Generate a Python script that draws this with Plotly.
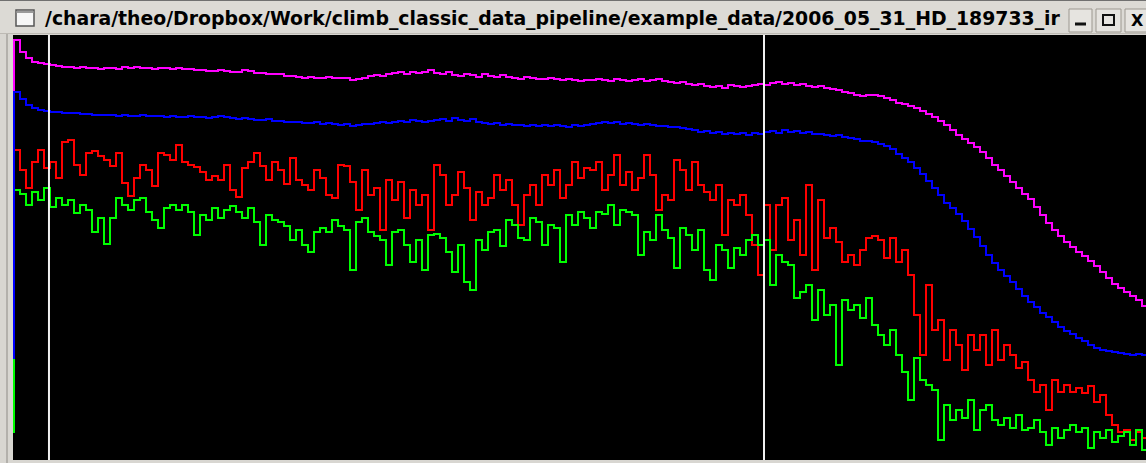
import numpy as np
import plotly.graph_objects as go

# Histogram-style power spectra (arbitrary units), one value per frequency bin.
# The first value of each series is the low "DC" bin.
magenta = [200,
    420, 408, 402, 398, 397, 396, 395, 394, 393, 393,
    392, 393, 392, 392, 391, 392, 392, 391, 393, 392,
    393, 392, 392, 391, 392, 392, 391, 392, 391, 391,
    390, 390, 389, 389, 390, 389, 388, 388, 390, 389,
    387, 387, 386, 386, 386, 384, 384, 383,
    382, 383, 382, 382, 383, 382, 382, 382, 380, 381,
    382, 384, 385, 384, 386, 387, 388, 386, 388, 387,
    388, 390, 387, 386, 388, 385, 384, 386, 385, 383,
    386, 384, 383, 385, 383, 382, 381, 383, 382, 381,
    381, 382, 381, 380, 381, 380, 379, 380,
    380, 381, 380, 379, 381, 380, 379, 380, 381, 379,
    380, 381, 379, 378, 377, 378, 376, 375, 376, 374,
    373, 374, 372, 375, 374, 373, 374, 375, 376, 375,
    377, 378, 376, 377, 375, 376, 374, 373, 374, 372,
    371, 370, 368, 367, 365, 364,
    365, 365, 364, 362, 360, 357, 356, 354, 352, 349,
    346, 343, 339, 335, 330, 325, 321, 317, 313, 308,
    302, 295, 290, 284, 278, 272, 266, 261, 253, 245,
    237, 230, 224, 218, 213, 208, 204, 199, 194, 188,
    182, 176, 172, 168, 164, 160, 154]

blue = [102,
    368, 361, 355, 352, 350, 349, 348, 348, 347, 347,
    347, 346, 346, 345, 345, 345, 345, 344, 345, 344,
    344, 345, 344, 344, 344, 343, 344, 343, 343, 344,
    343, 343, 342, 343, 344, 343, 342, 341, 342, 341,
    340, 340, 341, 339, 339, 338, 338, 338,
    337, 337, 338, 336, 337, 336, 335, 336, 334, 335,
    336, 336, 337, 338, 337, 338, 339, 338, 340, 339,
    338, 339, 340, 341, 339, 342, 340, 339, 341, 338,
    337, 336, 337, 335, 336, 335, 335, 334, 335, 334,
    335, 334, 335, 334, 333, 335, 334, 335,
    336, 337, 338, 337, 338, 336, 337, 336, 335, 336,
    335, 334, 334, 333, 333, 332, 331, 330, 328, 329,
    327, 328, 326, 327, 326, 327, 325, 327, 326, 328,
    329, 327, 330, 328, 329, 327, 328, 326, 326, 325,
    324, 325, 323, 322, 321, 319,
    319, 318, 316, 314, 311, 306, 302, 298, 292, 286,
    279, 272, 265, 257, 252, 246, 239, 231, 223, 214,
    205, 197, 190, 184, 178, 171, 164, 158, 153, 147,
    143, 138, 133, 129, 126, 122, 119, 115, 112, 110,
    109, 108, 107, 106, 105, 106, 105]

red = [150,
    310, 290, 272, 298, 310, 292, 298, 282, 318, 320,
    295, 285, 307, 309, 304, 300, 294, 307, 277, 264,
    282, 295, 290, 274, 307, 305, 300, 315, 298, 295,
    293, 288, 280, 284, 280, 295, 270, 263, 292, 298,
    307, 294, 280, 298, 290, 276, 302, 280,
    275, 270, 290, 282, 265, 262, 295, 294, 278, 250,
    290, 265, 272, 230, 280, 260, 278, 242, 270, 255,
    265, 230, 295, 285, 255, 265, 288, 272, 240, 268,
    255, 262, 285, 270, 280, 255, 235, 265, 275, 255,
    285, 275, 290, 262, 275, 298, 282, 292,
    290, 298, 270, 285, 305, 275, 288, 270, 282, 305,
    285, 250, 265, 260, 300, 290, 270, 298, 275, 268,
    260, 275, 225, 260, 255, 265, 245, 215, 185, 255,
    210, 255, 262, 220, 240, 205, 275, 190, 260, 222,
    232, 218, 198, 205, 195, 210,
    222, 224, 220, 202, 222, 198, 210, 185, 145, 105,
    175, 130, 140, 100, 130, 115, 90, 125, 110, 125,
    95, 130, 100, 115, 105, 92, 98, 80, 68, 75,
    50, 80, 68, 75, 68, 72, 67, 74, 58, 65,
    45, 35, 28, 30, 20, 28, 22]

green = [28,
    270, 266, 255, 268, 260, 272, 253, 262, 255, 260,
    247, 255, 250, 228, 242, 216, 242, 262, 255, 250,
    260, 262, 248, 240, 232, 252, 255, 250, 255, 248,
    225, 245, 240, 252, 242, 250, 254, 248, 242, 252,
    238, 215, 245, 240, 238, 234, 220, 230,
    215, 208, 228, 232, 228, 240, 234, 230, 190, 238,
    242, 228, 224, 220, 195, 228, 230, 215, 198, 220,
    190, 225, 226, 222, 208, 188, 215, 178, 170, 220,
    210, 228, 230, 214, 240, 235, 222, 220, 242, 238,
    215, 235, 232, 198, 245, 235, 248, 242,
    232, 248, 246, 255, 235, 250, 248, 245, 205, 228,
    220, 245, 230, 222, 192, 232, 225, 210, 230, 190,
    180, 215, 210, 192, 212, 205, 220, 225, 215, 220,
    175, 205, 198, 195, 162, 168, 175, 140, 170, 145,
    155, 95, 160, 150, 155, 142,
    162, 135, 125, 115, 130, 105, 88, 60, 102, 80,
    75, 70, 20, 55, 40, 50, 42, 60, 30, 50,
    55, 40, 35, 42, 32, 45, 30, 32, 40, 28,
    15, 32, 22, 30, 35, 28, 32, 12, 28, 22,
    30, 18, 24, 28, 15, 30, 10]

# Bin positions of the two vertical marker lines
markers = [6.83, 126.0]

title_text = "/chara/theo/Dropbox/Work/climb_classic_data_pipeline/example_data/2006_05_31_HD_189733_ir"

# ---------------------------------------------------------------- layout
W, H = 1146, 463
ML, MR, MT, MB = 13, 0, 35, 3
PW, PH = W - ML - MR, H - MT - MB


def px(p):
    return (p - ML) / PW


def py(q):
    return (H - MB - q) / PH


def step(vals):
    v = np.asarray(vals, dtype=float)
    x = np.arange(len(v) + 1)
    y = np.append(v, v[-1])
    return x, y


fig = go.Figure()
for vals, col in [(magenta, "#ff00ff"), (red, "#ff0000"),
                  (green, "#00ff00"), (blue, "#0000ff")]:
    x, y = step(vals)
    fig.add_trace(go.Scatter(x=x, y=y, mode="lines",
                             line=dict(color=col, width=2, shape="hv"),
                             hoverinfo="skip", showlegend=False))

shapes = []
# title bar
shapes.append(dict(type="rect", xref="paper", yref="paper",
                   x0=px(0), x1=px(W), y0=py(34), y1=py(0),
                   fillcolor="#dcdad5", line=dict(width=0), layer="below"))
shapes.append(dict(type="line", xref="paper", yref="paper",
                   x0=px(0), x1=px(W), y0=py(0.5), y1=py(0.5),
                   line=dict(color="#707070", width=1)))
shapes.append(dict(type="line", xref="paper", yref="paper",
                   x0=px(0), x1=px(W), y0=py(33.5), y1=py(33.5),
                   line=dict(color="#bdbab4", width=1)))
# left frame line
shapes.append(dict(type="line", xref="paper", yref="paper",
                   x0=px(7), x1=px(7), y0=py(34), y1=py(H),
                   line=dict(color="#8e8b86", width=1)))
# window icon
shapes.append(dict(type="rect", xref="paper", yref="paper",
                   x0=px(16), x1=px(34), y0=py(26), y1=py(10),
                   fillcolor="#f6f6f6", line=dict(color="#555555", width=1.5)))
shapes.append(dict(type="line", xref="paper", yref="paper",
                   x0=px(16.5), x1=px(33.5), y0=py(12), y1=py(12),
                   line=dict(color="#9a9a9a", width=2)))
# buttons
for x0, x1 in [(1069, 1092), (1096, 1121), (1125, 1150)]:
    shapes.append(dict(type="rect", xref="paper", yref="paper",
                       x0=px(x0), x1=px(x1), y0=py(32), y1=py(9),
                       fillcolor="#e6e4e0", line=dict(color="#9c9890", width=1)))
shapes.append(dict(type="line", xref="paper", yref="paper",
                   x0=px(1075), x1=px(1086), y0=py(24), y1=py(24),
                   line=dict(color="#111111", width=3)))
shapes.append(dict(type="rect", xref="paper", yref="paper",
                   x0=px(1103), x1=px(1114), y0=py(25), y1=py(15),
                   line=dict(color="#111111", width=2)))
# marker lines
for m in markers:
    shapes.append(dict(type="line", xref="x", yref="paper",
                       x0=m, x1=m, y0=0, y1=1, layer="above",
                       line=dict(color="#f0f0f0", width=2)))

annotations = [
    dict(text=title_text, xref="paper", yref="paper",
         x=px(43), y=py(19), xanchor="left", yanchor="middle",
         showarrow=False,
         font=dict(family="DejaVu Sans", size=18.85, weight="bold", color="#000000")),
    dict(text="X", xref="paper", yref="paper",
         x=px(1137), y=py(20.5), xanchor="center", yanchor="middle",
         showarrow=False,
         font=dict(family="DejaVu Sans", size=16, weight="bold", color="#000000")),
]

fig.update_layout(
    width=W, height=H,
    margin=dict(l=ML, r=MR, t=MT, b=MB, pad=0),
    paper_bgcolor="#d8d6d1",
    plot_bgcolor="#000000",
    shapes=shapes,
    annotations=annotations,
    xaxis=dict(range=[1 - 1 / 6, 1 + (W - 14) / 6], showgrid=False,
               zeroline=False, showticklabels=False, ticks="", fixedrange=True),
    yaxis=dict(range=[0, PH], showgrid=False, zeroline=False,
               showticklabels=False, ticks="", fixedrange=True),
    showlegend=False,
)

fig.write_html(
    "out.html",
    config={"displayModeBar": False},
    post_script="document.body.style.margin='0';document.body.style.overflow='hidden';",
)
